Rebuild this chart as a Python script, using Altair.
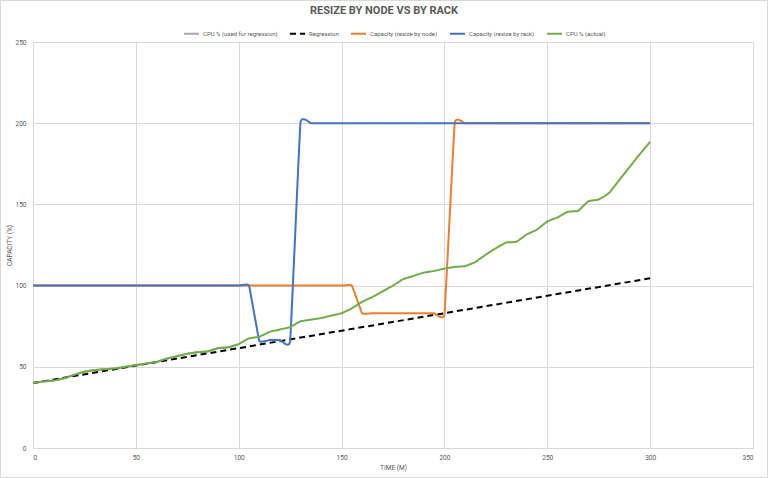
import altair as alt
import pandas as pd

# Time axis (minutes), one sample every 5 minutes
minutes = [0, 5, 10, 15, 20, 25, 30, 35, 40, 45, 50, 55, 60, 65, 70, 75, 80, 85, 90, 95,
           100, 105, 110, 115, 120, 125, 130, 135, 140, 145, 150, 155, 160, 165, 170, 175,
           180, 185, 190, 195, 200, 205, 210, 215, 220, 225, 230, 235, 240, 245, 250, 255,
           260, 265, 270, 275, 280, 285, 290, 295, 300]

# Measured CPU utilisation (%)
cpu_actual = [40, 41, 41.5, 43, 45, 47, 48, 48.5, 49, 50, 51, 52, 53, 55, 56.5, 58, 59, 59.5,
              61.5, 62, 64, 67.5, 68.5, 71.5, 73, 74.5, 78, 79, 80, 81.5, 83, 86, 90, 93, 96.5,
              100, 104, 106, 108, 109, 110.5, 111.5, 112, 114.5, 119, 123, 126.5, 127, 131.5,
              134.5, 139.5, 142, 145.5, 146, 152, 153, 157, 165, 173, 181, 188.5]

# Window of CPU samples that fed the regression (first 100 minutes)
regression_minutes = minutes[:21]
cpu_for_regression = cpu_actual[:21]

# Fitted regression line endpoints
regression_minutes_fit = [0, 300]
regression_values = [40, 104.5]

# Provisioned capacity (%) when resizing one node at a time
capacity_node = [100, 100, 100, 100, 100, 100, 100, 100, 100, 100, 100, 100, 100, 100, 100, 100,
                 100, 100, 100, 100, 100, 100, 100, 100, 100, 100, 100, 100, 100, 100, 100, 100,
                 83, 83, 83, 83, 83, 83, 83, 83, 82.5,
                 200, 200, 200, 200, 200, 200, 200, 200, 200, 200, 200, 200, 200, 200, 200, 200,
                 200, 200, 200, 200]

# Provisioned capacity (%) when resizing a whole rack
capacity_rack = [100, 100, 100, 100, 100, 100, 100, 100, 100, 100, 100, 100, 100, 100, 100, 100,
                 100, 100, 100, 100, 100, 100, 66, 66.5, 66.5, 66,
                 200, 200, 200, 200, 200, 200, 200, 200, 200, 200, 200, 200, 200, 200, 200, 200,
                 200, 200, 200, 200, 200, 200, 200, 200, 200, 200, 200, 200, 200, 200, 200, 200,
                 200, 200, 200]

series_names = ["CPU % (used for regression)", "Regression", "Capacity (resize by node)",
                "Capacity (resize by rack)", "CPU % (actual)"]
series_colors = ["#A5A5A5", "#000000", "#ED7D31", "#4472C4", "#70AD47"]
series_dashes = [[1, 0], [6, 4], [1, 0], [1, 0], [1, 0]]

FONT = "Liberation Sans Narrow, Roboto, sans-serif"
TEXT = "#595959"
GRID = "#d9d9d9"
SMOOTH = "cardinal"


def frame(xs, ys, name):
    return pd.DataFrame({"t": xs, "v": ys, "series": name})


frames = [
    (frame(regression_minutes, cpu_for_regression, series_names[0]), SMOOTH),
    (frame(regression_minutes_fit, regression_values, series_names[1]), "linear"),
    (frame(minutes, capacity_node, series_names[2]), SMOOTH),
    (frame(minutes, capacity_rack, series_names[3]), SMOOTH),
    (frame(minutes, cpu_actual, series_names[4]), SMOOTH),
]

x_enc = alt.X("t:Q", scale=alt.Scale(domain=[0, 350], nice=False),
              axis=alt.Axis(values=[0, 50, 100, 150, 200, 250, 300, 350], title="TIME (M)"))
y_enc = alt.Y("v:Q", scale=alt.Scale(domain=[0, 250], nice=False),
              axis=alt.Axis(values=[0, 50, 100, 150, 200, 250], title="CAPACITY (%)"))
color_enc = alt.Color("series:N", scale=alt.Scale(domain=series_names, range=series_colors),
                      legend=alt.Legend(title=None))
dash_enc = alt.StrokeDash("series:N", scale=alt.Scale(domain=series_names, range=series_dashes),
                          legend=alt.Legend(title=None))

layers = []
for df, interp in frames:
    line_kwargs = {"interpolate": interp, "strokeWidth": 2}
    if interp == SMOOTH:
        line_kwargs["tension"] = 0.75
    layers.append(
        alt.Chart(df).mark_line(**line_kwargs).encode(
            x=x_enc, y=y_enc, color=color_enc, strokeDash=dash_enc
        )
    )

# Light border around the whole chart area
border = alt.Chart(pd.DataFrame({"k": [0]})).mark_rect(
    filled=False, stroke=GRID, strokeWidth=1
).encode(
    x=alt.value(-32.5), x2=alt.value(734.5), y=alt.value(-41.5), y2=alt.value(435.5)
)

chart = alt.layer(*layers, border).properties(
    width=720,
    height=406,
    padding={"left": 33, "top": 42, "right": 15, "bottom": 30},
    autosize=alt.AutoSizeParams(type="none"),
    title=alt.TitleParams(
        "RESIZE BY NODE VS BY RACK", font=FONT, fontSize=11, fontWeight="bold",
        color=TEXT, anchor="middle", offset=0, dx=-9, dy=16
    ),
).configure_view(
    stroke="transparent"
).configure_axis(
    labelFont=FONT, labelFontSize=6.5, labelColor=TEXT,
    titleFont=FONT, titleFontSize=6.5, titleColor=TEXT, titleFontWeight="normal",
    gridColor=GRID, domainColor=GRID, ticks=False, labelPadding=6
).configure_axisX(
    titlePadding=4
).configure_axisY(
    labelPadding=7, titlePadding=3
).configure_legend(
    orient="none", legendX=150, legendY=-17, direction="horizontal", columns=5,
    labelFont=FONT, labelFontSize=6, labelColor=TEXT, symbolType="stroke",
    symbolStrokeWidth=2, symbolSize=225, columnPadding=8, labelOffset=3
)

chart.save("out.html", embed_options={"renderer": "svg", "actions": False})
